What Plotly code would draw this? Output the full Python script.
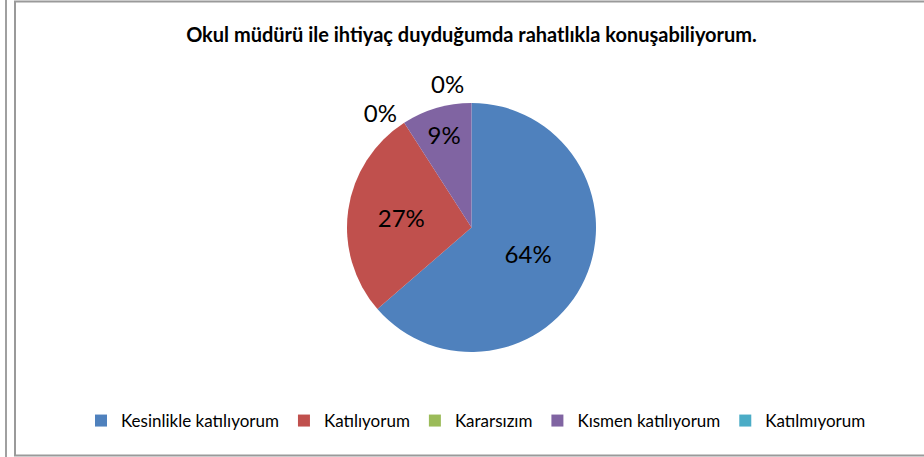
import plotly.graph_objects as go

W, H = 924, 457

categories = ["Kesinlikle katılıyorum", "Katılıyorum", "Kararsızım", "Kısmen katılıyorum", "Katılmıyorum"]
counts = [7, 3, 0, 1, 0]
colors = ["#4F81BD", "#C0504D", "#9BBB59", "#8064A2", "#4BACC6"]
title_text = "Okul müdürü ile ihtiyaç duyduğumda rahatlıkla konuşabiliyorum."

text_pos = ["inside" if c > 0 else "outside" for c in counts]

cx, cy, r = 471.5, 227.5, 124.5

fig = go.Figure(go.Pie(
    labels=categories,
    values=counts,
    sort=False,
    direction="clockwise",
    rotation=0,
    marker=dict(colors=colors, line=dict(width=0)),
    textinfo="percent",
    texttemplate="%{percent:.0%}",
    textposition=text_pos,
    insidetextorientation="horizontal",
    textfont=dict(family="Lato", size=24, color="black"),
    domain=dict(x=[(cx - r) / W, (cx + r) / W], y=[1 - (cy + r) / H, 1 - (cy - r) / H]),
    showlegend=True,
))

fig.update_layout(
    width=W, height=H,
    margin=dict(l=0, r=0, t=0, b=0),
    paper_bgcolor="white",
    font=dict(family="Lato", color="black"),
    title=dict(text="<b>" + title_text + "</b>", x=471.5 / W, xanchor="center",
               y=1 - 35 / H, yanchor="middle", font=dict(family="Lato", size=20, color="black")),
    legend=dict(orientation="h", x=476 / W, xanchor="center", y=1 - 421 / H, yanchor="middle",
                font=dict(family="Lato", size=17, color="black"), traceorder="normal"),
    shapes=[
        dict(type="line", xref="paper", yref="paper", x0=6 / W, x1=6 / W, y0=0, y1=1,
             line=dict(color="#a0a0a0", width=2)),
        dict(type="rect", xref="paper", yref="paper", x0=15 / W, x1=1.02, y0=1 - 455.5 / H, y1=1 - 1.5 / H,
             line=dict(color="#9a9a9a", width=2)),
    ],
)

post = (
    "document.body.style.margin='0';document.body.style.overflow='hidden';"
    "var s=document.createElement('style');s.textContent='.textline{display:none}';"
    "document.head.appendChild(s);"
)

fig.write_html("out.html", post_script=post, config={"displayModeBar": False})
